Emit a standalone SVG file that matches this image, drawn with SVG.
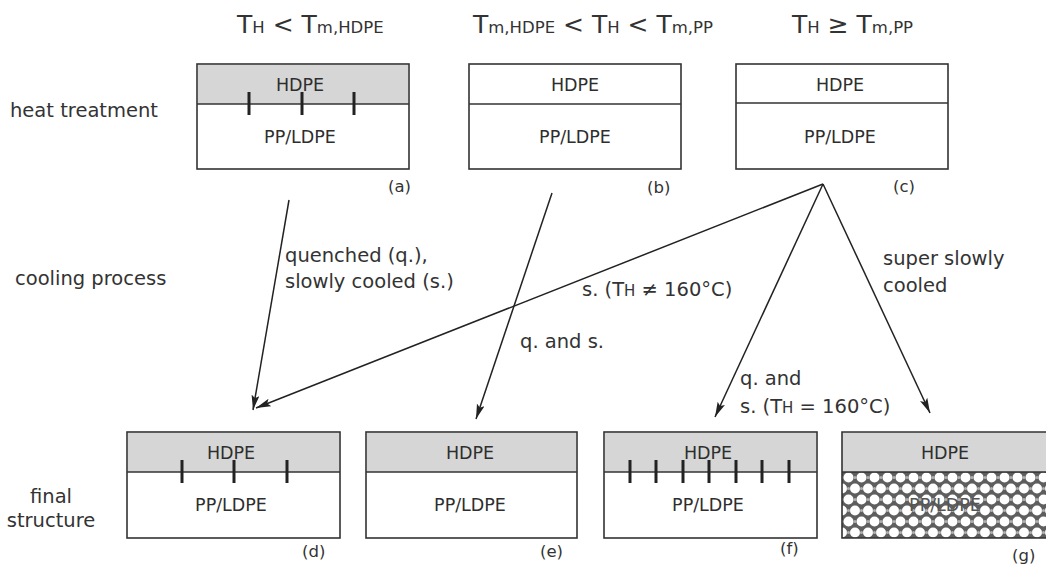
<svg xmlns="http://www.w3.org/2000/svg" width="1046" height="572" viewBox="0 0 1046 572">
<style>
text{font-family:"DejaVu Sans","Liberation Sans",sans-serif;fill:#333}
.big{font-size:25px}
.sm{font-size:16.5px}
.lbl{font-size:19.5px}
.cap{font-size:16.5px}
.mat{font-size:17.5px;text-anchor:middle;fill:#2e2e2e}
.box{fill:#fff;stroke:#333;stroke-width:1.6}
.gray{fill:#d6d6d6;stroke:none}
.div{stroke:#333;stroke-width:1.6}
.tick{stroke:#222;stroke-width:3}
.con{stroke:#222;stroke-width:1.5;fill:none;marker-end:url(#ah)}
</style>
<defs>
<marker id="ah" markerUnits="userSpaceOnUse" markerWidth="16" markerHeight="10" refX="15" refY="4" orient="auto">
<path d="M0,0 L15,4 L0,8 L3,4 z" fill="#222"/>
</marker>
<pattern id="holes" patternUnits="userSpaceOnUse" width="13" height="22" x="842" y="472">
<rect width="13" height="22" fill="#5e5e5e"/>
<circle cx="6.5" cy="5.5" r="5" fill="#fff"/>
<circle cx="0" cy="16.5" r="5" fill="#fff"/>
<circle cx="13" cy="16.5" r="5" fill="#fff"/>
<circle cx="0" cy="5.5" r="1.6" fill="#b0b0b0"/>
<circle cx="13" cy="5.5" r="1.6" fill="#b0b0b0"/>
<circle cx="6.5" cy="16.5" r="1.6" fill="#b0b0b0"/>
</pattern>
</defs>

<g id="headers">
<text x="237" y="33"><tspan class="big">T</tspan><tspan class="sm">H</tspan><tspan class="big"> &lt; T</tspan><tspan class="sm">m,HDPE</tspan></text>
<text x="473" y="33"><tspan class="big">T</tspan><tspan class="sm">m,HDPE</tspan><tspan class="big"> &lt; T</tspan><tspan class="sm">H</tspan><tspan class="big"> &lt; T</tspan><tspan class="sm">m,PP</tspan></text>
<text x="792" y="33"><tspan class="big">T</tspan><tspan class="sm">H</tspan><tspan class="big"> ≥ T</tspan><tspan class="sm">m,PP</tspan></text>
</g>

<g id="rowlabels">
<text class="lbl" x="10" y="117">heat treatment</text>
<text class="lbl" x="15" y="285">cooling process</text>
<text class="lbl" x="51" y="503" text-anchor="middle">final</text>
<text class="lbl" x="51" y="527" text-anchor="middle">structure</text>
</g>

<g id="node-a">
<rect class="box" x="197" y="64" width="212" height="105"/>
<rect class="gray" x="198" y="65" width="210" height="39"/>
<line class="div" x1="197" y1="104" x2="409" y2="104"/>
<line class="tick" x1="249" y1="92" x2="249" y2="115"/>
<line class="tick" x1="302" y1="92" x2="302" y2="115"/>
<line class="tick" x1="354" y1="92" x2="354" y2="115"/>
<text class="mat" x="300" y="91">HDPE</text>
<text class="mat" x="300" y="143">PP/LDPE</text>
<text class="cap" x="388" y="192">(a)</text>
</g>

<g id="node-b">
<rect class="box" x="469" y="64" width="212" height="105"/>
<line class="div" x1="469" y1="104" x2="681" y2="104"/>
<text class="mat" x="575" y="91">HDPE</text>
<text class="mat" x="575" y="143">PP/LDPE</text>
<text class="cap" x="647" y="193">(b)</text>
</g>

<g id="node-c">
<rect class="box" x="736" y="64" width="212" height="105"/>
<line class="div" x1="736" y1="103" x2="948" y2="103"/>
<text class="mat" x="840" y="91">HDPE</text>
<text class="mat" x="840" y="143">PP/LDPE</text>
<text class="cap" x="893" y="192">(c)</text>
</g>

<g id="node-d">
<rect class="box" x="127" y="432" width="213" height="106"/>
<rect class="gray" x="128" y="433" width="211" height="39"/>
<line class="div" x1="127" y1="472" x2="340" y2="472"/>
<line class="tick" x1="182" y1="460" x2="182" y2="483"/>
<line class="tick" x1="234" y1="460" x2="234" y2="483"/>
<line class="tick" x1="287" y1="460" x2="287" y2="483"/>
<text class="mat" x="231" y="459">HDPE</text>
<text class="mat" x="231" y="511">PP/LDPE</text>
<text class="cap" x="302" y="557">(d)</text>
</g>

<g id="node-e">
<rect class="box" x="366" y="432" width="211" height="106"/>
<rect class="gray" x="367" y="433" width="209" height="39"/>
<line class="div" x1="366" y1="472" x2="577" y2="472"/>
<text class="mat" x="470" y="459">HDPE</text>
<text class="mat" x="470" y="511">PP/LDPE</text>
<text class="cap" x="540" y="557">(e)</text>
</g>

<g id="node-f">
<rect class="box" x="604" y="432" width="213" height="106"/>
<rect class="gray" x="605" y="433" width="211" height="39"/>
<line class="div" x1="604" y1="472" x2="817" y2="472"/>
<line class="tick" x1="630" y1="460" x2="630" y2="483"/>
<line class="tick" x1="656" y1="460" x2="656" y2="483"/>
<line class="tick" x1="683" y1="460" x2="683" y2="483"/>
<line class="tick" x1="709" y1="460" x2="709" y2="483"/>
<line class="tick" x1="736" y1="460" x2="736" y2="483"/>
<line class="tick" x1="762" y1="460" x2="762" y2="483"/>
<line class="tick" x1="789" y1="460" x2="789" y2="483"/>
<text class="mat" x="708" y="459">HDPE</text>
<text class="mat" x="708" y="511">PP/LDPE</text>
<text class="cap" x="780" y="554">(f)</text>
</g>

<g id="node-g">
<rect class="gray" x="842" y="432" width="204" height="40"/>
<rect x="842" y="472" width="204" height="66" fill="url(#holes)"/>
<path d="M1046,432 H842 V538 H1046" fill="none" stroke="#333" stroke-width="1.6"/>
<line class="div" x1="842" y1="472" x2="1046" y2="472"/>
<text class="mat" x="945" y="459">HDPE</text>
<text class="mat" x="945" y="511" style="fill:#555">PP/LDPE</text>
<text class="cap" x="1012" y="561">(g)</text>
</g>

<g id="connectors">
<line class="con" x1="289" y1="200" x2="253" y2="410"/>
<line class="con" x1="552" y1="193" x2="476" y2="419"/>
<line class="con" x1="823" y1="184" x2="256" y2="408"/>
<line class="con" x1="823" y1="184" x2="715" y2="417"/>
<line class="con" x1="823" y1="184" x2="930" y2="413"/>
</g>

<g id="connector-labels">
<text class="lbl" x="285" y="262">quenched (q.),</text>
<text class="lbl" x="285" y="288">slowly cooled (s.)</text>
<text class="lbl" x="582" y="296">s. (T<tspan font-size="15">H</tspan> ≠ 160°C)</text>
<text class="lbl" x="520" y="348">q. and s.</text>
<text class="lbl" x="883" y="265">super slowly</text>
<text class="lbl" x="883" y="292">cooled</text>
<text class="lbl" x="740" y="385">q. and</text>
<text class="lbl" x="740" y="413">s. (T<tspan font-size="15">H</tspan> = 160°C)</text>
</g>
</svg>
